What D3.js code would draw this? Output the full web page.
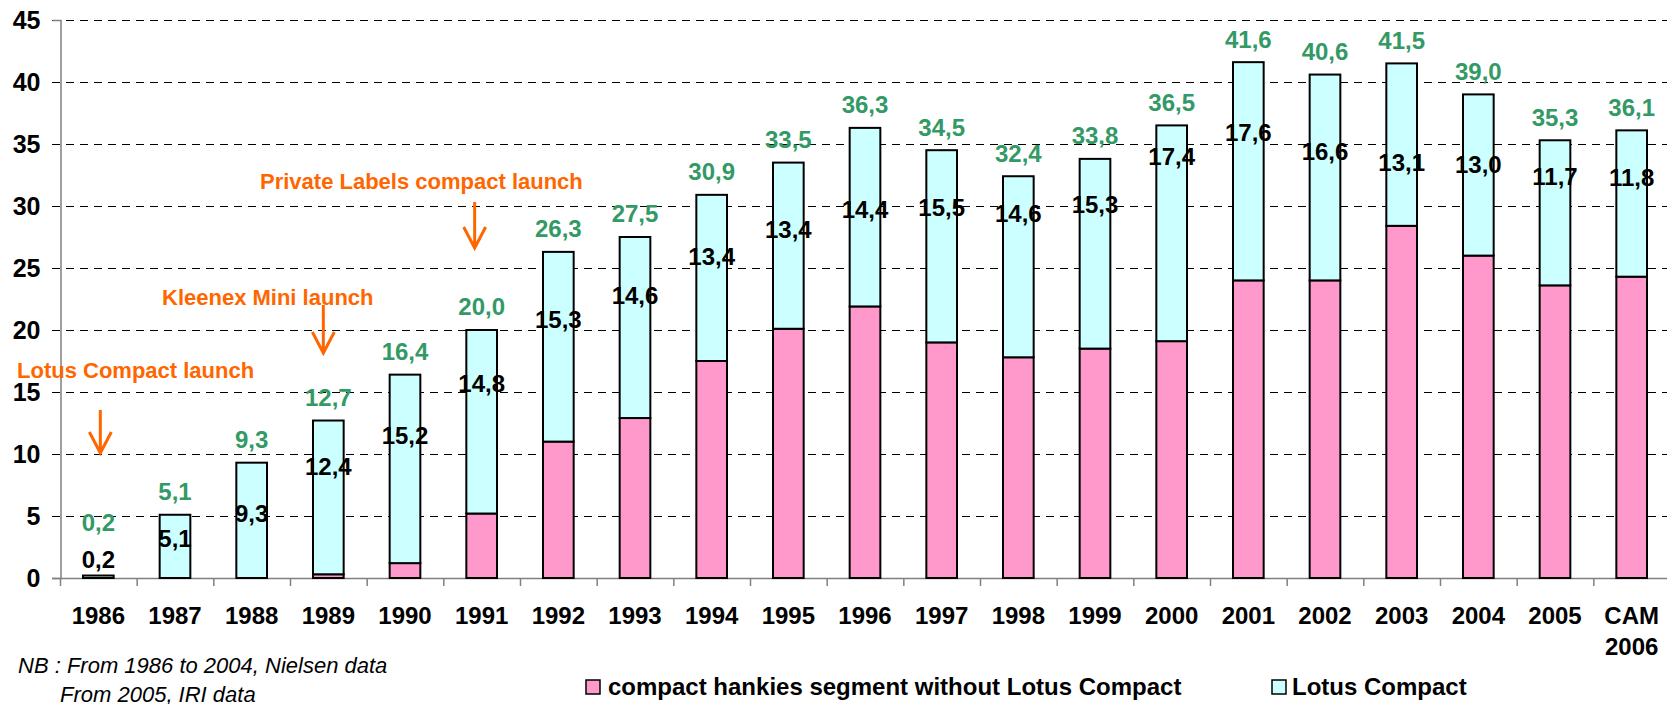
<!DOCTYPE html>
<html>
<head>
<meta charset="utf-8">
<script src="https://cdn.jsdelivr.net/npm/d3@7"></script>
<style>
  body { margin: 0; background: #fff; }
  svg { display: block; font-family: "Liberation Sans", Arial, sans-serif; }
</style>
</head>
<body>
<div id="chartContainer"></div>
<script>
// values
const categories = ["1986", "1987", "1988", "1989", "1990", "1991", "1992", "1993", "1994", "1995", "1996",
  "1997", "1998", "1999", "2000", "2001", "2002", "2003", "2004", "2005", "CAM 2006"];
const otherCompact = [0, 0, 0, 0.3, 1.2, 5.2, 11.0, 12.9, 17.5, 20.1, 21.9,
  19.0, 17.8, 18.5, 19.1, 24.0, 24.0, 28.4, 26.0, 23.6, 24.3];
const lotusCompact = [0.2, 5.1, 9.3, 12.4, 15.2, 14.8, 15.3, 14.6, 13.4, 13.4, 14.4,
  15.5, 14.6, 15.3, 17.4, 17.6, 16.6, 13.1, 13.0, 11.7, 11.8];
const totalLabels = [0.2, 5.1, 9.3, 12.7, 16.4, 20.0, 26.3, 27.5, 30.9, 33.5, 36.3,
  34.5, 32.4, 33.8, 36.5, 41.6, 40.6, 41.5, 39.0, 35.3, 36.1];
// where the Lotus Compact labels sit (value units, as placed in the original)
const lotusLabelAt = [1.45, 3.15, 5.2, 8.95, 11.5, 15.7, 20.8, 22.8, 25.9, 28.1, 29.7,
  29.9, 29.4, 30.1, 34.0, 35.9, 34.4, 33.5, 33.3, 32.4, 32.3];
const yTicks = [0, 5, 10, 15, 20, 25, 30, 35, 40, 45];
const seriesNames = ["compact hankies segment without Lotus Compact", "Lotus Compact"];
const annotationTexts = ["Lotus Compact launch", "Kleenex Mini launch", "Private Labels compact launch"];
const annotationYears = ["1986", "1989", "1991"];

function pageLoaded() {
  const w = 1667;
  const h = 704;
  const margins = { top: 20, left: 60, bottom: 126, right: -3 };
  const innerWidth = w - margins.left - margins.right;
  const innerHeight = h - margins.top - margins.bottom;

  const colors = ["#ff99cc", "#ccffff"];
  const green = "#339966";
  const orange = "#ff6600";

  const fmt = d3.formatLocale({ decimal: ",", thousands: ".", grouping: [3], currency: ["", ""] }).format(".1f");

  const data = categories.map((c, i) => ({
    cat: c,
    other: otherCompact[i],
    lotus: lotusCompact[i],
    total: totalLabels[i],
    labelAt: lotusLabelAt[i]
  }));

  const stack = d3.stack().keys(["other", "lotus"]);
  const series = stack(data);

  const xScale = d3.scaleBand()
    .domain(categories)
    .range([0, innerWidth])
    .paddingInner(0.6)
    .paddingOuter(0.3);

  const yScale = d3.scaleLinear()
    .domain([0, 45])
    .range([innerHeight, 0]);

  const svg = d3.select("#chartContainer")
    .append("svg")
    .attr("width", w)
    .attr("height", h);

  const mainG = svg.append("g")
    .attr("transform", `translate(${margins.left}, ${margins.top})`);

  // dashed gridlines
  mainG.append("g")
    .selectAll("line")
    .data(yTicks.filter((d) => d > 0))
    .enter()
    .append("line")
    .attr("x1", -8)
    .attr("x2", innerWidth)
    .attr("y1", (d) => yScale(d) + 0.5)
    .attr("y2", (d) => yScale(d) + 0.5)
    .attr("stroke", "#000")
    .attr("stroke-width", 1)
    .attr("stroke-dasharray", "8,6");

  // y axis
  const yAxis = d3.axisLeft(yScale).tickValues(yTicks).tickSize(8).tickPadding(12);
  const yG = mainG.append("g").attr("transform", "translate(0.5,0)").call(yAxis);
  yG.select(".domain").attr("stroke", "#808080").attr("stroke-width", 1.5);
  yG.selectAll(".tick line").attr("stroke", "none");
  yG.selectAll(".tick text")
    .attr("font-size", "25px")
    .attr("font-weight", "bold")
    .attr("fill", "#000");

  // x axis: ticks between categories
  const step = xScale.step();
  const xG = mainG.append("g").attr("transform", `translate(0, ${innerHeight})`);
  xG.append("line")
    .attr("x1", -8)
    .attr("x2", innerWidth)
    .attr("y1", 0.5)
    .attr("y2", 0.5)
    .attr("stroke", "#808080")
    .attr("stroke-width", 1.5);
  xG.selectAll(".xtick")
    .data(d3.range(categories.length + 1))
    .enter()
    .append("line")
    .attr("class", "xtick")
    .attr("x1", (i) => i * step + 0.5)
    .attr("x2", (i) => i * step + 0.5)
    .attr("y1", 0)
    .attr("y2", 8)
    .attr("stroke", "#808080")
    .attr("stroke-width", 1.5);

  const catText = xG.selectAll(".xlabel")
    .data(categories)
    .enter()
    .append("text")
    .attr("class", "xlabel")
    .attr("text-anchor", "middle")
    .attr("font-size", "24px")
    .attr("font-weight", "bold")
    .attr("fill", "#000")
    .attr("transform", (d) => `translate(${xScale(d) + xScale.bandwidth() / 2}, 0)`);
  catText.selectAll("tspan")
    .data((d) => d.split(" "))
    .enter()
    .append("tspan")
    .attr("x", 0)
    .attr("y", (d, i) => 46 + i * 31)
    .text((d) => d);

  // stacked bars
  mainG.append("g")
    .selectAll("g")
    .data(series)
    .enter()
    .append("g")
    .attr("fill", (d, i) => colors[i])
    .selectAll("rect")
    .data((d) => d.filter((p) => p[1] - p[0] > 0))
    .enter()
    .append("rect")
    .attr("x", (d) => xScale(d.data.cat))
    .attr("y", (d) => yScale(d[1]))
    .attr("width", xScale.bandwidth())
    .attr("height", (d) => yScale(d[0]) - yScale(d[1]))
    .attr("stroke", "#000")
    .attr("stroke-width", 2);

  // Lotus Compact labels
  mainG.append("g")
    .selectAll("text")
    .data(data)
    .enter()
    .append("text")
    .attr("x", (d) => xScale(d.cat) + xScale.bandwidth() / 2)
    .attr("y", (d) => yScale(d.labelAt))
    .attr("dy", "0.35em")
    .attr("text-anchor", "middle")
    .attr("font-size", "24px")
    .attr("font-weight", "bold")
    .attr("fill", "#000")
    .text((d) => fmt(d.lotus));

  // totals on top
  mainG.append("g")
    .selectAll("text")
    .data(data)
    .enter()
    .append("text")
    .attr("x", (d) => xScale(d.cat) + xScale.bandwidth() / 2)
    .attr("y", (d) => Math.min(yScale(d.total) - 23, yScale(d.labelAt) - 37))
    .attr("dy", "0.35em")
    .attr("text-anchor", "middle")
    .attr("font-size", "24px")
    .attr("font-weight", "bold")
    .attr("fill", green)
    .text((d) => fmt(d.total));

  // launch annotations
  const annLayout = [
    { textX: 17, textY: 378, arrowTop: 410, arrowBottom: 453, dx: 2 },
    { textX: 162, textY: 305, arrowTop: 305, arrowBottom: 353, dx: -5 },
    { textX: 260, textY: 189, arrowTop: 202, arrowBottom: 248, dx: -7 }
  ];
  const annG = svg.append("g");
  annotationTexts.forEach((t, i) => {
    const l = annLayout[i];
    const ax = margins.left + xScale(annotationYears[i]) + xScale.bandwidth() / 2 + l.dx;
    annG.append("text")
      .attr("x", l.textX)
      .attr("y", l.textY)
      .attr("font-size", "22px")
      .attr("font-weight", "bold")
      .attr("fill", orange)
      .text(t);
    annG.append("path")
      .attr("d", `M${ax},${l.arrowTop}V${l.arrowBottom}M${ax - 11},${l.arrowBottom - 21}L${ax},${l.arrowBottom}L${ax + 11},${l.arrowBottom - 21}`)
      .attr("fill", "none")
      .attr("stroke", orange)
      .attr("stroke-width", 3);
  });

  // legend
  const legendX = [586, 1272];
  const legend = svg.append("g")
    .selectAll("g")
    .data(seriesNames)
    .enter()
    .append("g")
    .attr("transform", (d, i) => `translate(${legendX[i]}, 680)`);
  legend.append("rect")
    .attr("width", 14)
    .attr("height", 14)
    .attr("fill", (d, i) => colors[i])
    .attr("stroke", "#000")
    .attr("stroke-width", 1.5);
  legend.append("text")
    .attr("x", (d, i) => (i === 0 ? 22 : 20))
    .attr("y", 7)
    .attr("dy", "0.35em")
    .attr("font-size", "24px")
    .attr("font-weight", "bold")
    .attr("fill", "#000")
    .text((d) => d);

  // source note
  const note = svg.append("g")
    .attr("font-size", "22px")
    .attr("font-style", "italic")
    .attr("fill", "#000");
  note.append("text").attr("x", 18).attr("y", 673).text("NB : From 1986 to 2004, Nielsen data");
  note.append("text").attr("x", 60).attr("y", 702).text("From 2005, IRI data");
}

window.addEventListener("load", pageLoaded);
</script>
</body>
</html>
